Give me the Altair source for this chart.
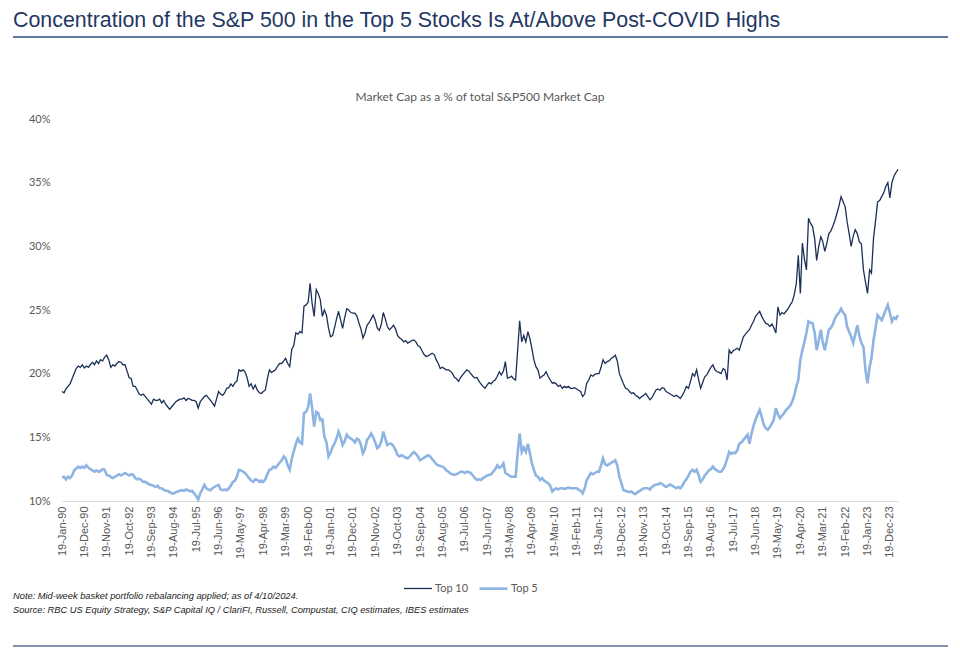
import altair as alt
import pandas as pd

# ---- data (monthly, from 19-Jan-1990 to Apr-2024) ----
top10 = [
    18.6, 18.5, 18.8, 19.0, 19.2, 19.6, 20.0, 20.4, 20.6, 20.5, 20.7, 20.45,   # 1990
    20.6, 20.5, 20.7, 20.9, 20.7, 21.0, 20.8, 21.1, 21.0, 21.3, 21.45, 21.1,   # 1991
    20.5, 20.7, 20.6, 20.8, 20.95, 20.9, 20.7, 20.7, 20.2, 19.7, 19.6, 19.0,   # 1992
    19.0, 18.7, 18.4, 18.3, 18.4, 18.2, 18.0, 17.8, 17.6, 18.0, 17.9, 17.9,    # 1993
    18.0, 17.7, 17.9, 17.6, 17.4, 17.2, 17.4, 17.6, 17.8, 17.9, 18.0, 18.0,    # 1994
    18.1, 17.9, 18.05, 18.0, 17.9, 17.9, 17.8, 17.3, 17.8, 18.0, 18.2, 18.3,   # 1995
    18.1, 17.9, 17.7, 17.45, 18.0, 18.6, 18.4, 18.3, 18.5, 18.85, 18.9, 19.2,  # 1996
    19.0, 19.3, 19.4, 20.3, 20.2, 20.3, 20.15, 19.7, 19.0, 19.2, 18.8, 19.1,   # 1997
    18.7, 18.5, 18.45, 18.6, 18.7, 19.6, 20.3, 20.1, 20.2, 20.3, 20.6, 20.8,   # 1998
    20.8, 21.0, 21.2, 20.8, 20.55, 21.9, 22.2, 23.2, 23.1, 23.3, 23.2, 25.3,   # 1999
    25.4, 25.6, 27.1, 25.5, 24.5, 26.6, 26.3, 25.8, 24.5, 25.0, 24.6, 23.6,    # 2000
    22.9, 23.0, 23.6, 24.3, 24.9, 24.2, 23.55, 24.4, 25.1, 25.0, 24.8, 24.75,  # 2001
    24.75, 24.5, 24.0, 23.5, 22.8, 23.2, 23.8, 24.0, 24.3, 24.6, 24.2, 23.6,   # 2002
    23.4, 23.9, 24.8, 24.3, 23.7, 23.45, 23.6, 23.8, 23.5, 23.0, 22.8, 22.7,   # 2003
    22.5, 22.6, 22.4, 22.5, 22.6, 22.65, 22.5, 22.2, 22.1, 21.8, 21.5, 21.35,  # 2004
    21.4, 21.5, 21.6, 21.5, 21.1, 20.8, 20.4, 20.5, 20.4, 20.3, 20.3, 20.2,    # 2005
    20.0, 19.7, 19.6, 19.4, 19.7, 19.9, 20.1, 20.3, 20.2, 20.0, 19.8, 19.65,   # 2006
    19.7, 19.4, 19.2, 19.0, 18.85, 19.1, 19.3, 19.2, 19.4, 19.5, 19.8, 20.15,  # 2007
    19.9, 20.2, 20.95, 19.65, 19.7, 19.8, 19.6, 19.5, 21.85, 24.15, 22.5, 23.0,  # 2008
    22.5, 23.3, 22.8, 22.0, 21.1, 20.55, 20.3, 19.65, 19.8, 19.9, 20.15, 19.8,   # 2009
    19.5, 19.25, 19.3, 19.2, 19.0, 19.1, 18.85, 19.0, 18.9, 19.0, 18.85, 18.85,  # 2010
    18.9, 18.8, 18.7, 18.6, 18.2, 18.4, 19.25, 19.5, 19.9, 19.8, 19.95, 20.0,    # 2011
    20.0, 20.5, 21.1, 20.8, 20.95, 21.0, 21.2, 21.3, 21.45, 21.0, 20.0, 19.6,    # 2012
    19.2, 18.85, 18.8, 18.6, 18.45, 18.5, 18.3, 18.2, 18.05, 18.2, 18.3, 18.45,  # 2013
    18.2, 17.95, 18.1, 18.4, 18.7, 18.8, 18.7, 18.9, 18.85, 18.6, 18.5, 18.4,    # 2014
    18.3, 18.2, 18.3, 18.2, 18.05, 18.3, 18.6, 19.0, 18.85, 19.4, 20.0, 19.8,    # 2015
    20.3, 19.5, 18.85, 19.3, 19.75, 19.9, 20.2, 20.5, 20.7, 20.3, 20.15, 20.1,   # 2016
    20.0, 20.4, 20.3, 19.5, 21.85, 21.6, 21.8, 21.9, 22.0, 21.85, 22.4, 22.9,    # 2017
    23.1, 23.3, 23.45, 23.8, 24.1, 24.5, 24.7, 24.9, 24.5, 24.2, 23.95, 23.9,    # 2018
    23.7, 23.9, 23.6, 23.2, 25.25, 24.6, 24.8, 24.7, 24.9, 25.1, 25.4, 25.65,    # 2019
    26.2, 27.1, 29.3, 26.3, 30.25, 29.0, 28.15, 32.2, 31.8, 31.55, 30.6, 28.9,   # 2020
    30.0, 30.75, 30.4, 29.6, 30.2, 31.0, 31.2, 31.6, 32.05, 32.6, 33.2, 33.9,    # 2021
    33.5, 33.1, 31.95, 31.0, 30.0, 30.8, 31.3, 31.0, 30.35, 30.2, 28.15, 27.2,   # 2022
    26.3, 28.15, 27.9, 30.65, 32.0, 33.5, 33.6, 33.9, 34.2, 34.7, 35.0, 33.8,    # 2023
    35.0, 35.5, 35.8, 36.05,                                                     # 2024
]

top5 = [
    11.85, 11.9, 11.7, 11.9, 11.8, 12.0, 12.4, 12.55, 12.7, 12.6, 12.7, 12.6,   # 1990
    12.8, 12.6, 12.5, 12.4, 12.3, 12.4, 12.3, 12.35, 12.5, 12.45, 12.05, 12.0,  # 1991
    11.9, 11.8, 11.9, 12.0, 12.1, 12.0, 12.1, 12.2, 12.1, 12.0, 12.1, 12.05,    # 1992
    11.8, 11.7, 11.75, 11.65, 11.5, 11.5, 11.4, 11.3, 11.25, 11.2, 11.1, 11.2,  # 1993
    11.0, 11.0, 10.9, 10.8, 10.8, 10.7, 10.6, 10.6, 10.7, 10.75, 10.8, 10.85,   # 1994
    10.8, 10.9, 10.85, 10.75, 10.8, 10.6, 10.4, 10.1, 10.6, 10.9, 11.25, 11.0,  # 1995
    10.9, 10.85, 11.0, 11.1, 11.2, 11.25, 10.9, 10.85, 10.9, 10.85, 11.0, 11.2, # 1996
    11.5, 11.6, 11.9, 12.45, 12.4, 12.3, 12.2, 12.0, 11.8, 11.6, 11.5, 11.7,    # 1997
    11.65, 11.5, 11.6, 11.5, 11.7, 12.1, 12.45, 12.5, 12.7, 12.6, 12.8, 13.0,   # 1998
    13.2, 13.5, 13.35, 12.8, 12.45, 13.3, 13.9, 14.5, 14.9, 14.6, 14.5, 16.9,   # 1999
    17.0, 17.4, 18.45, 17.3, 15.85, 17.0, 16.9, 16.35, 16.4, 15.05, 14.6, 13.5, # 2000
    13.8, 14.25, 14.5, 14.9, 15.45, 15.0, 14.4, 14.7, 15.2, 15.0, 14.9, 14.8,   # 2001
    14.6, 14.9, 14.8, 14.4, 13.75, 14.1, 14.8, 15.0, 15.3, 15.0, 14.6, 14.15,   # 2002
    14.3, 14.7, 15.45, 14.9, 14.4, 14.5, 14.5, 14.3, 14.0, 13.6, 13.5, 13.6,    # 2003
    13.5, 13.4, 13.35, 13.5, 13.7, 13.85, 13.7, 13.5, 13.2, 13.3, 13.4, 13.5,   # 2004
    13.6, 13.5, 13.3, 13.1, 12.9, 12.8, 12.75, 12.7, 12.6, 12.4, 12.3, 12.15,   # 2005
    12.1, 12.05, 12.1, 12.2, 12.3, 12.3, 12.2, 12.3, 12.25, 12.2, 12.0, 11.8,   # 2006
    11.65, 11.7, 11.65, 11.8, 11.9, 12.0, 12.05, 12.1, 12.3, 12.5, 12.8, 12.6,  # 2007
    12.7, 12.95, 12.2, 12.1, 12.0, 11.9, 11.9, 11.9, 13.75, 15.3, 13.85, 14.2,  # 2008
    13.85, 14.5, 13.8, 13.0, 12.45, 12.0, 11.9, 11.65, 11.8, 11.6, 11.5, 11.4,  # 2009
    11.2, 10.75, 10.9, 11.0, 10.9, 11.0, 11.0, 10.95, 11.0, 11.05, 11.0, 11.0,  # 2010
    11.0, 11.0, 10.9, 10.8, 10.6, 11.0, 11.65, 11.9, 12.2, 12.1, 12.2, 12.3,    # 2011
    12.3, 12.8, 13.35, 12.9, 12.8, 12.9, 13.0, 13.1, 13.2, 12.8, 11.9, 11.4,    # 2012
    10.85, 10.8, 10.75, 10.7, 10.75, 10.6, 10.55, 10.7, 10.8, 10.9, 11.0, 11.0, # 2013
    11.0, 10.9, 11.1, 11.2, 11.3, 11.3, 11.4, 11.35, 11.2, 11.1, 11.2, 11.3,    # 2014
    11.2, 11.1, 11.0, 11.1, 11.0, 11.2, 11.5, 11.7, 12.0, 12.3, 12.45, 12.3,    # 2015
    12.45, 12.0, 11.5, 11.7, 12.0, 12.2, 12.4, 12.5, 12.7, 12.5, 12.4, 12.3,    # 2016
    12.3, 12.5, 12.8, 13.3, 13.85, 13.7, 13.8, 13.75, 14.0, 14.5, 14.6, 14.8,   # 2017
    15.0, 15.2, 14.5, 15.3, 15.9, 16.4, 16.8, 17.15, 16.6, 16.0, 15.7, 15.6,    # 2018
    15.8, 16.1, 16.4, 17.3, 16.8, 16.5, 16.7, 16.9, 17.15, 17.3, 17.5, 17.8,    # 2019
    18.3, 19.0, 19.5, 21.1, 21.85, 22.5, 23.2, 24.1, 24.0, 23.95, 23.2, 21.85,  # 2020
    22.6, 23.45, 22.5, 21.85, 22.6, 23.45, 23.6, 23.9, 24.35, 24.6, 24.8, 25.1, # 2021
    24.8, 24.6, 23.7, 23.3, 22.9, 22.4, 23.1, 23.8, 23.0, 22.4, 22.1, 20.3,     # 2022
    19.25, 20.55, 21.2, 22.65, 23.6, 24.6, 24.4, 24.2, 24.6, 25.0, 25.4, 24.8,  # 2023
    24.1, 24.4, 24.3, 24.6,                                                     # 2024
]

series_names = ["Top 10", "Top 5"]
series_colors = ["#1B2F57", "#8DB4E2"]
series_widths = [1.3, 2.6]

tick_labels = [
    "19-Jan-90", "19-Dec-90", "19-Nov-91", "19-Oct-92", "19-Sep-93", "19-Aug-94",
    "19-Jul-95", "19-Jun-96", "19-May-97", "19-Apr-98", "19-Mar-99", "19-Feb-00",
    "19-Jan-01", "19-Dec-01", "19-Nov-02", "19-Oct-03", "19-Sep-04", "19-Aug-05",
    "19-Jul-06", "19-Jun-07", "19-May-08", "19-Apr-09", "19-Mar-10", "19-Feb-11",
    "19-Jan-12", "19-Dec-12", "19-Nov-13", "19-Oct-14", "19-Sep-15", "19-Aug-16",
    "19-Jul-17", "19-Jun-18", "19-May-19", "19-Apr-20", "19-Mar-21", "19-Feb-22",
    "19-Jan-23", "19-Dec-23",
]
y_ticks = [10, 15, 20, 25, 30, 35, 40]

title_text = "Concentration of the S&P 500 in the Top 5 Stocks Is At/Above Post-COVID Highs"
subtitle_text = "Market Cap as a % of total S&P500 Market Cap"
note_line1 = "Note: Mid-week basket portfolio rebalancing applied; as of 4/10/2024."
note_line2 = "Source: RBC US Equity Strategy, S&P Capital IQ / ClariFI, Russell, Compustat, CIQ estimates, IBES estimates"

# ---- build tables ----
dates = pd.date_range("1990-01-19", periods=len(top10), freq=pd.DateOffset(months=1))
df = pd.concat([
    pd.DataFrame({"date": dates.strftime("%Y-%m-%dT00:00:00Z"), "value": top10, "series": "Top 10"}),
    pd.DataFrame({"date": dates.strftime("%Y-%m-%dT00:00:00Z"), "value": top5, "series": "Top 5"}),
], ignore_index=True)

tick_dates = [pd.to_datetime(t, format="%d-%b-%y") for t in tick_labels]
tick_values = [alt.DateTime(year=d.year, month=d.month, date=d.day, utc=True) for d in tick_dates]

W, H = 836, 382
PL, PT = 62, 119

legend_cfg = dict(
    title=None, orient="none", legendX=341, legendY=454, direction="horizontal",
    symbolType="stroke", symbolSize=784, labelFont="Lato", labelFontSize=11,
    labelColor="#595959", labelOffset=2, columnPadding=5,
)

lines = alt.Chart(df).mark_line(interpolate="linear").encode(
    x=alt.X(
        "date:T",
        scale=alt.Scale(type="utc", domain=[alt.DateTime(year=1990, month=1, date=19, utc=True),
                                            alt.DateTime(year=2024, month=4, date=19, utc=True)]),
        axis=alt.Axis(
            values=tick_values, labelExpr="utcFormat(datum.value, '%d-%b-%y')", labelAngle=-90,
            title=None, grid=False, ticks=False, domainColor="#D9D9D9", domainWidth=1,
            labelFont="Liberation Sans", labelFontSize=11, labelColor="#595959",
            labelPadding=5, labelOverlap=False, labelBound=False, labelFlush=False,
        ),
    ),
    y=alt.Y(
        "value:Q",
        scale=alt.Scale(domain=[10, 40], nice=False, zero=False),
        axis=alt.Axis(
            values=y_ticks, labelExpr="datum.value + '%'", title=None, grid=False,
            ticks=False, domain=False, labelFont="Lato", labelFontSize=11,
            labelColor="#595959", labelPadding=12,
        ),
    ),
    color=alt.Color(
        "series:N",
        scale=alt.Scale(domain=series_names, range=series_colors),
        sort=series_names,
        legend=alt.Legend(**legend_cfg),
    ),
    strokeWidth=alt.StrokeWidth(
        "series:N",
        scale=alt.Scale(domain=series_names, range=series_widths),
        sort=series_names,
        legend=alt.Legend(**legend_cfg),
    ),
    order=alt.Order("series:N", sort="descending"),
)

one = pd.DataFrame({"k": [0]})

title = alt.Chart(pd.DataFrame({"t": [title_text]})).mark_text(
    align="left", baseline="alphabetic", font="Liberation Sans", fontSize=21.4,
    color="#1F3864",
).encode(x=alt.value(13 - PL), y=alt.value(27 - PT), text="t:N")

subtitle = alt.Chart(pd.DataFrame({"t": [subtitle_text]})).mark_text(
    align="center", baseline="middle", font="Lato", fontSize=12, color="#595959",
).encode(x=alt.value(480 - PL), y=alt.value(97 - PT), text="t:N")

note1 = alt.Chart(pd.DataFrame({"t": [note_line1]})).mark_text(
    align="left", baseline="middle", font="Liberation Sans", fontSize=9.3,
    fontStyle="italic", color="#222222",
).encode(x=alt.value(13 - PL), y=alt.value(596 - PT), text="t:N")

note2 = alt.Chart(pd.DataFrame({"t": [note_line2]})).mark_text(
    align="left", baseline="middle", font="Liberation Sans", fontSize=9.3,
    fontStyle="italic", color="#222222",
).encode(x=alt.value(13 - PL), y=alt.value(610 - PT), text="t:N")

top_rule = alt.Chart(one).mark_rule(color="#2E4A7D", strokeWidth=1.5).encode(
    x=alt.value(13 - PL), x2=alt.value(948 - PL), y=alt.value(37 - PT)
)
bottom_rule = alt.Chart(one).mark_rule(color="#5B6F8F", strokeWidth=1.5).encode(
    x=alt.value(13 - PL), x2=alt.value(948 - PL), y=alt.value(646 - PT)
)

chart = alt.layer(lines, title, subtitle, note1, note2, top_rule, bottom_rule).properties(
    width=W, height=H,
    background="white",
    autosize=alt.AutoSizeParams(type="none"),
    padding={"left": PL, "top": PT, "right": 960 - PL - W, "bottom": 653 - PT - H},
).configure_view(strokeWidth=0, stroke="transparent")

chart.save("out.html", embed_options={"renderer": "svg", "actions": False})
